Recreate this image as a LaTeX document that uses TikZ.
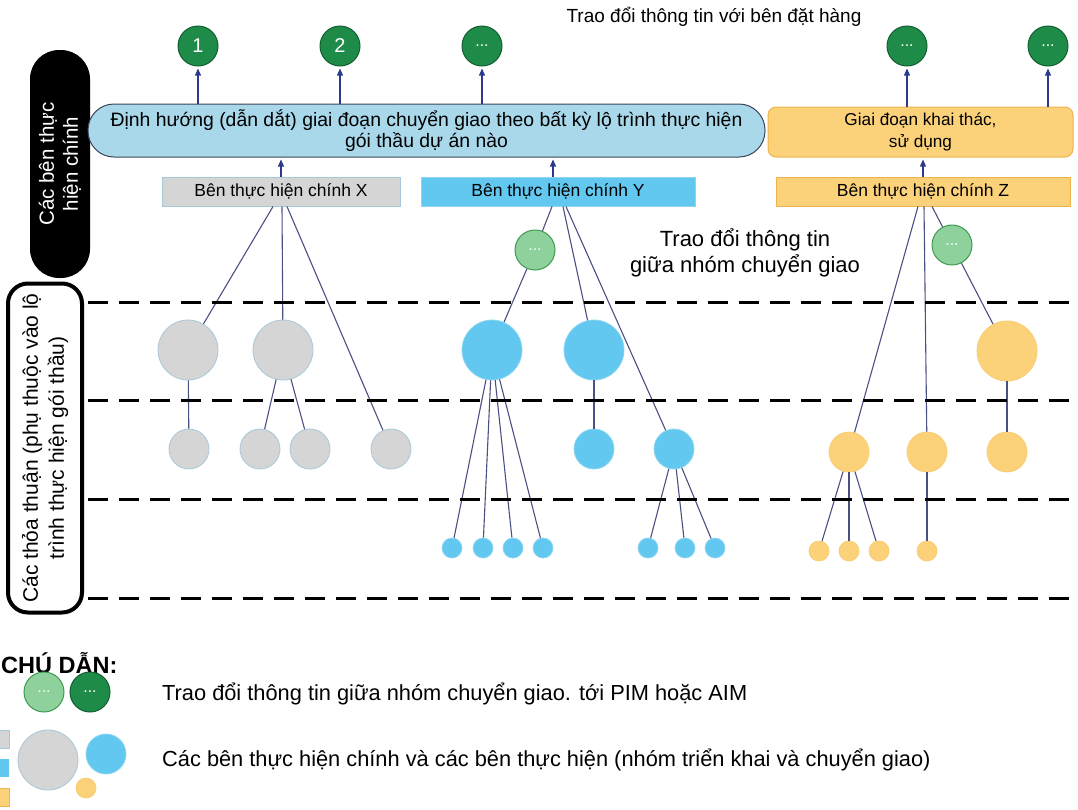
\documentclass[tikz,border=0pt]{standalone}
\usepackage{fontspec}
\setmainfont{Liberation Sans}
\usetikzlibrary{arrows.meta}
\definecolor{dgreen}{HTML}{1E8C48}
\definecolor{dgreenb}{HTML}{125E30}
\definecolor{lgreen}{HTML}{8FD19C}
\definecolor{lgreenb}{HTML}{3E9A52}
\definecolor{pillblue}{HTML}{A8D8EA}
\definecolor{pilledge}{HTML}{3A4658}
\definecolor{skyblue}{HTML}{62C8F0}
\definecolor{skyedge}{HTML}{8FD6F2}
\definecolor{grayfill}{HTML}{D5D5D5}
\definecolor{grayedge}{HTML}{A6C8DA}
\definecolor{amber}{HTML}{FBD27A}
\definecolor{amberedge}{HTML}{EDB44E}
\definecolor{linkcol}{HTML}{4B5083}
\definecolor{arrcol}{HTML}{2D3A8C}

\begin{document}
\begin{tikzpicture}[x=1pt,y=-1pt,
  fs/.style={font=\fontsize{#1}{#1}\selectfont},
  dot/.style={circle, inner sep=0pt, line width=0.8pt},
  big/.style={dot, minimum size=60pt},
  mid/.style={dot, minimum size=40pt},
  tiny/.style={dot, minimum size=20pt},
  gr/.style={fill=grayfill, draw=grayedge},
  bl/.style={fill=skyblue, draw=skyedge},
  yl/.style={fill=amber, draw=amber!85!amberedge},
  dkg/.style={dot, minimum size=40pt, fill=dgreen, draw=dgreenb, line width=1pt, text=white},
  ltg/.style={dot, minimum size=40pt, fill=lgreen, draw=lgreenb, line width=1pt, text=white!90!lgreen},
  link/.style={draw=linkcol, line width=1.1pt},
  arr/.style={draw=arrcol, line width=1.1pt, -{Triangle[width=6pt,length=7pt]}, shorten >=2pt},
  sep/.style={draw=black, line width=3pt, dash pattern=on 20pt off 11pt},
  partybox/.style={minimum width=#1, minimum height=29pt, inner sep=0pt, line width=1pt, fs=17.5},
]
\useasboundingbox (0,0) rectangle (1078,809);

% side labels
\node[rotate=90, minimum width=228pt, minimum height=60pt, fill=black, rounded corners=29pt,
      text=white, align=center, font=\fontsize{20.5}{24}\selectfont] (mainlbl) at (60,164) {Các bên thực\\hiện chính};
\node[rotate=90, minimum width=329pt, minimum height=74pt, draw=black, line width=4pt, rounded corners=20pt,
      align=center, font=\fontsize{21}{26}\selectfont] (agrlbl) at (45,448) {Các thỏa thuận (phụ thuộc vào lộ\\trình thực hiện gói thầu)};

% heading
\node[fs=19] (toptxt) at (714,17) {Trao đổi thông tin với bên đặt hàng};

% exchange points with the client
\node[dkg, fs=20] (d1) at (198,46) {1};
\node[dkg, fs=20] (d2) at (340,46) {2};
\node[dkg, fs=16] (d3) at (482,46) {...};
\node[dkg, fs=16] (d4) at (907,46) {...};
\node[dkg, fs=16] (d5) at (1048,46) {...};

% stages
\node[minimum width=677pt, minimum height=53pt, fill=pillblue, draw=pilledge, line width=1pt,
      rounded corners=26pt, align=center, font=\fontsize{19.4}{21}\selectfont] (pill) at (426.5,130.5)
      {Định hướng (dẫn dắt) giai đoạn chuyển giao theo bất kỳ lộ trình thực hiện\\gói thầu dự án nào};
\node[minimum width=305pt, minimum height=50pt, fill=amber, draw=amberedge, line width=1pt,
      rounded corners=8pt, align=center, font=\fontsize{17.2}{22}\selectfont] (ys) at (920.5,132)
      {Giai đoạn khai thác,\\sử dụng};

% lead appointed parties
\node[partybox=238pt, fill=grayfill, draw=grayedge] (bx) at (281,191.5) {Bên thực hiện chính X};
\node[partybox=274pt, fill=skyblue, draw=skyedge] (by) at (558,191.5) {Bên thực hiện chính Y};
\node[partybox=294pt, fill=amber, draw=amberedge] (bz) at (923,191.5) {Bên thực hiện chính Z};

\node[align=center, font=\fontsize{22}{26}\selectfont] (midtxt) at (745,253) {Trao đổi thông tin\\giữa nhóm chuyển giao};

% team X
\node[big, gr] (x1) at (188,350) {};
\node[big, gr] (x2) at (283,350) {};
\node[mid, gr] (x3) at (189,449) {};
\node[mid, gr] (x4) at (260,449) {};
\node[mid, gr] (x5) at (310,449) {};
\node[mid, gr] (x6) at (391,449) {};

% team Y
\node[ltg, fs=16] (gy) at (535,250) {...};
\node[big, bl] (y1) at (492,350) {};
\node[big, bl] (y2) at (594,350) {};
\node[mid, bl] (y3) at (594,449) {};
\node[mid, bl] (y4) at (674,449) {};
\node[tiny, bl] (y5) at (452,548) {};
\node[tiny, bl] (y6) at (483,548) {};
\node[tiny, bl] (y7) at (513,548) {};
\node[tiny, bl] (y8) at (543,548) {};
\node[tiny, bl] (y9) at (648,548) {};
\node[tiny, bl] (y10) at (685,548) {};
\node[tiny, bl] (y11) at (715,548) {};

% team Z
\node[ltg, fs=16] (gz) at (952,245) {...};
\node[big, yl] (z1) at (1007,351) {};
\node[mid, yl] (z2) at (849,452) {};
\node[mid, yl] (z3) at (927,452) {};
\node[mid, yl] (z4) at (1007,452) {};
\node[tiny, yl] (z5) at (819,551) {};
\node[tiny, yl] (z6) at (849,551) {};
\node[tiny, yl] (z7) at (879,551) {};
\node[tiny, yl] (z8) at (927,551) {};

% arrows upward
\draw[arr] (pill.north -| d1) -- (d1.south);
\draw[arr] (pill.north -| d2) -- (d2.south);
\draw[arr] (pill.north -| d3) -- (d3.south);
\draw[arr] (ys.north -| d4) -- (d4.south);
\draw[arr] (ys.north -| d5) -- (d5.south);
\draw[arr] (bx.north) -- (bx.north |- pill.south);
\draw[arr] ([xshift=-5pt]by.north) -- ([xshift=-5pt]by.north |- pill.south);
\draw[arr] (bz.north) -- (bz.north |- ys.south);

% tree links X
\draw[link] ([xshift=-8pt]bx.south) -- (x1);
\draw[link] ([xshift=1pt]bx.south) -- (x2);
\draw[link] ([xshift=6pt]bx.south) -- (x6);
\draw[link] (x1) -- (x3);
\draw[link] (x2) -- (x4);
\draw[link] (x2) -- (x5);

% tree links Y
\draw[link] ([xshift=-6pt]by.south) -- (gy);
\draw[link] (gy) -- (y1);
\draw[link] ([xshift=5pt]by.south) -- (y2);
\draw[link] ([xshift=8pt]by.south) -- (y4);
\draw[link] (y2) -- (y3);
\foreach \t in {y5,y6,y7,y8} \draw[link] (y1) -- (\t);
\foreach \t in {y9,y10,y11} \draw[link] (y4) -- (\t);

% tree links Z
\draw[link] ([xshift=-5pt]bz.south) -- (z2);
\draw[link] ([xshift=1pt]bz.south) -- (z3);
\draw[link] ([xshift=9pt]bz.south) -- (gz);
\draw[link] (gz) -- (z1);
\draw[link] (z1) -- (z4);
\foreach \t in {z5,z6,z7} \draw[link] (z2) -- (\t);
\draw[link] (z3) -- (z8);

% level separators
\foreach \yy in {302,400,499,598} \draw[sep] (88,\yy) -- (1078,\yy);

% key
\node[anchor=west, inner sep=0pt, font=\fontsize{23.5}{26}\selectfont\bfseries] (keyhead) at (1,663) {CHÚ DẪN:};
\node[ltg, fs=16] (kg1) at (44,692) {...};
\node[dkg, fs=16] (kg2) at (90,692) {...};
\node[anchor=west, inner sep=0pt, fs=21.8] (keytxt1) at (162,694) {Trao đổi thông tin giữa nhóm chuyển giao. tới PIM hoặc AIM};
\fill[grayfill, draw=grayedge, line width=0.8pt] (-6,730) rectangle (9,748);
\fill[skyblue] (-6,759) rectangle (9,777);
\fill[amber, draw=amberedge, line width=0.8pt] (-6,788) rectangle (9,806);
\node[big, gr] (kb1) at (48,760) {};
\node[mid, bl] (kb2) at (106,754) {};
\node[tiny, yl] (kb3) at (86,788) {};
\node[anchor=west, inner sep=0pt, fs=21.8] (keytxt2) at (162,760) {Các bên thực hiện chính và các bên thực hiện (nhóm triển khai và chuyển giao)};
\end{tikzpicture}
\end{document}
